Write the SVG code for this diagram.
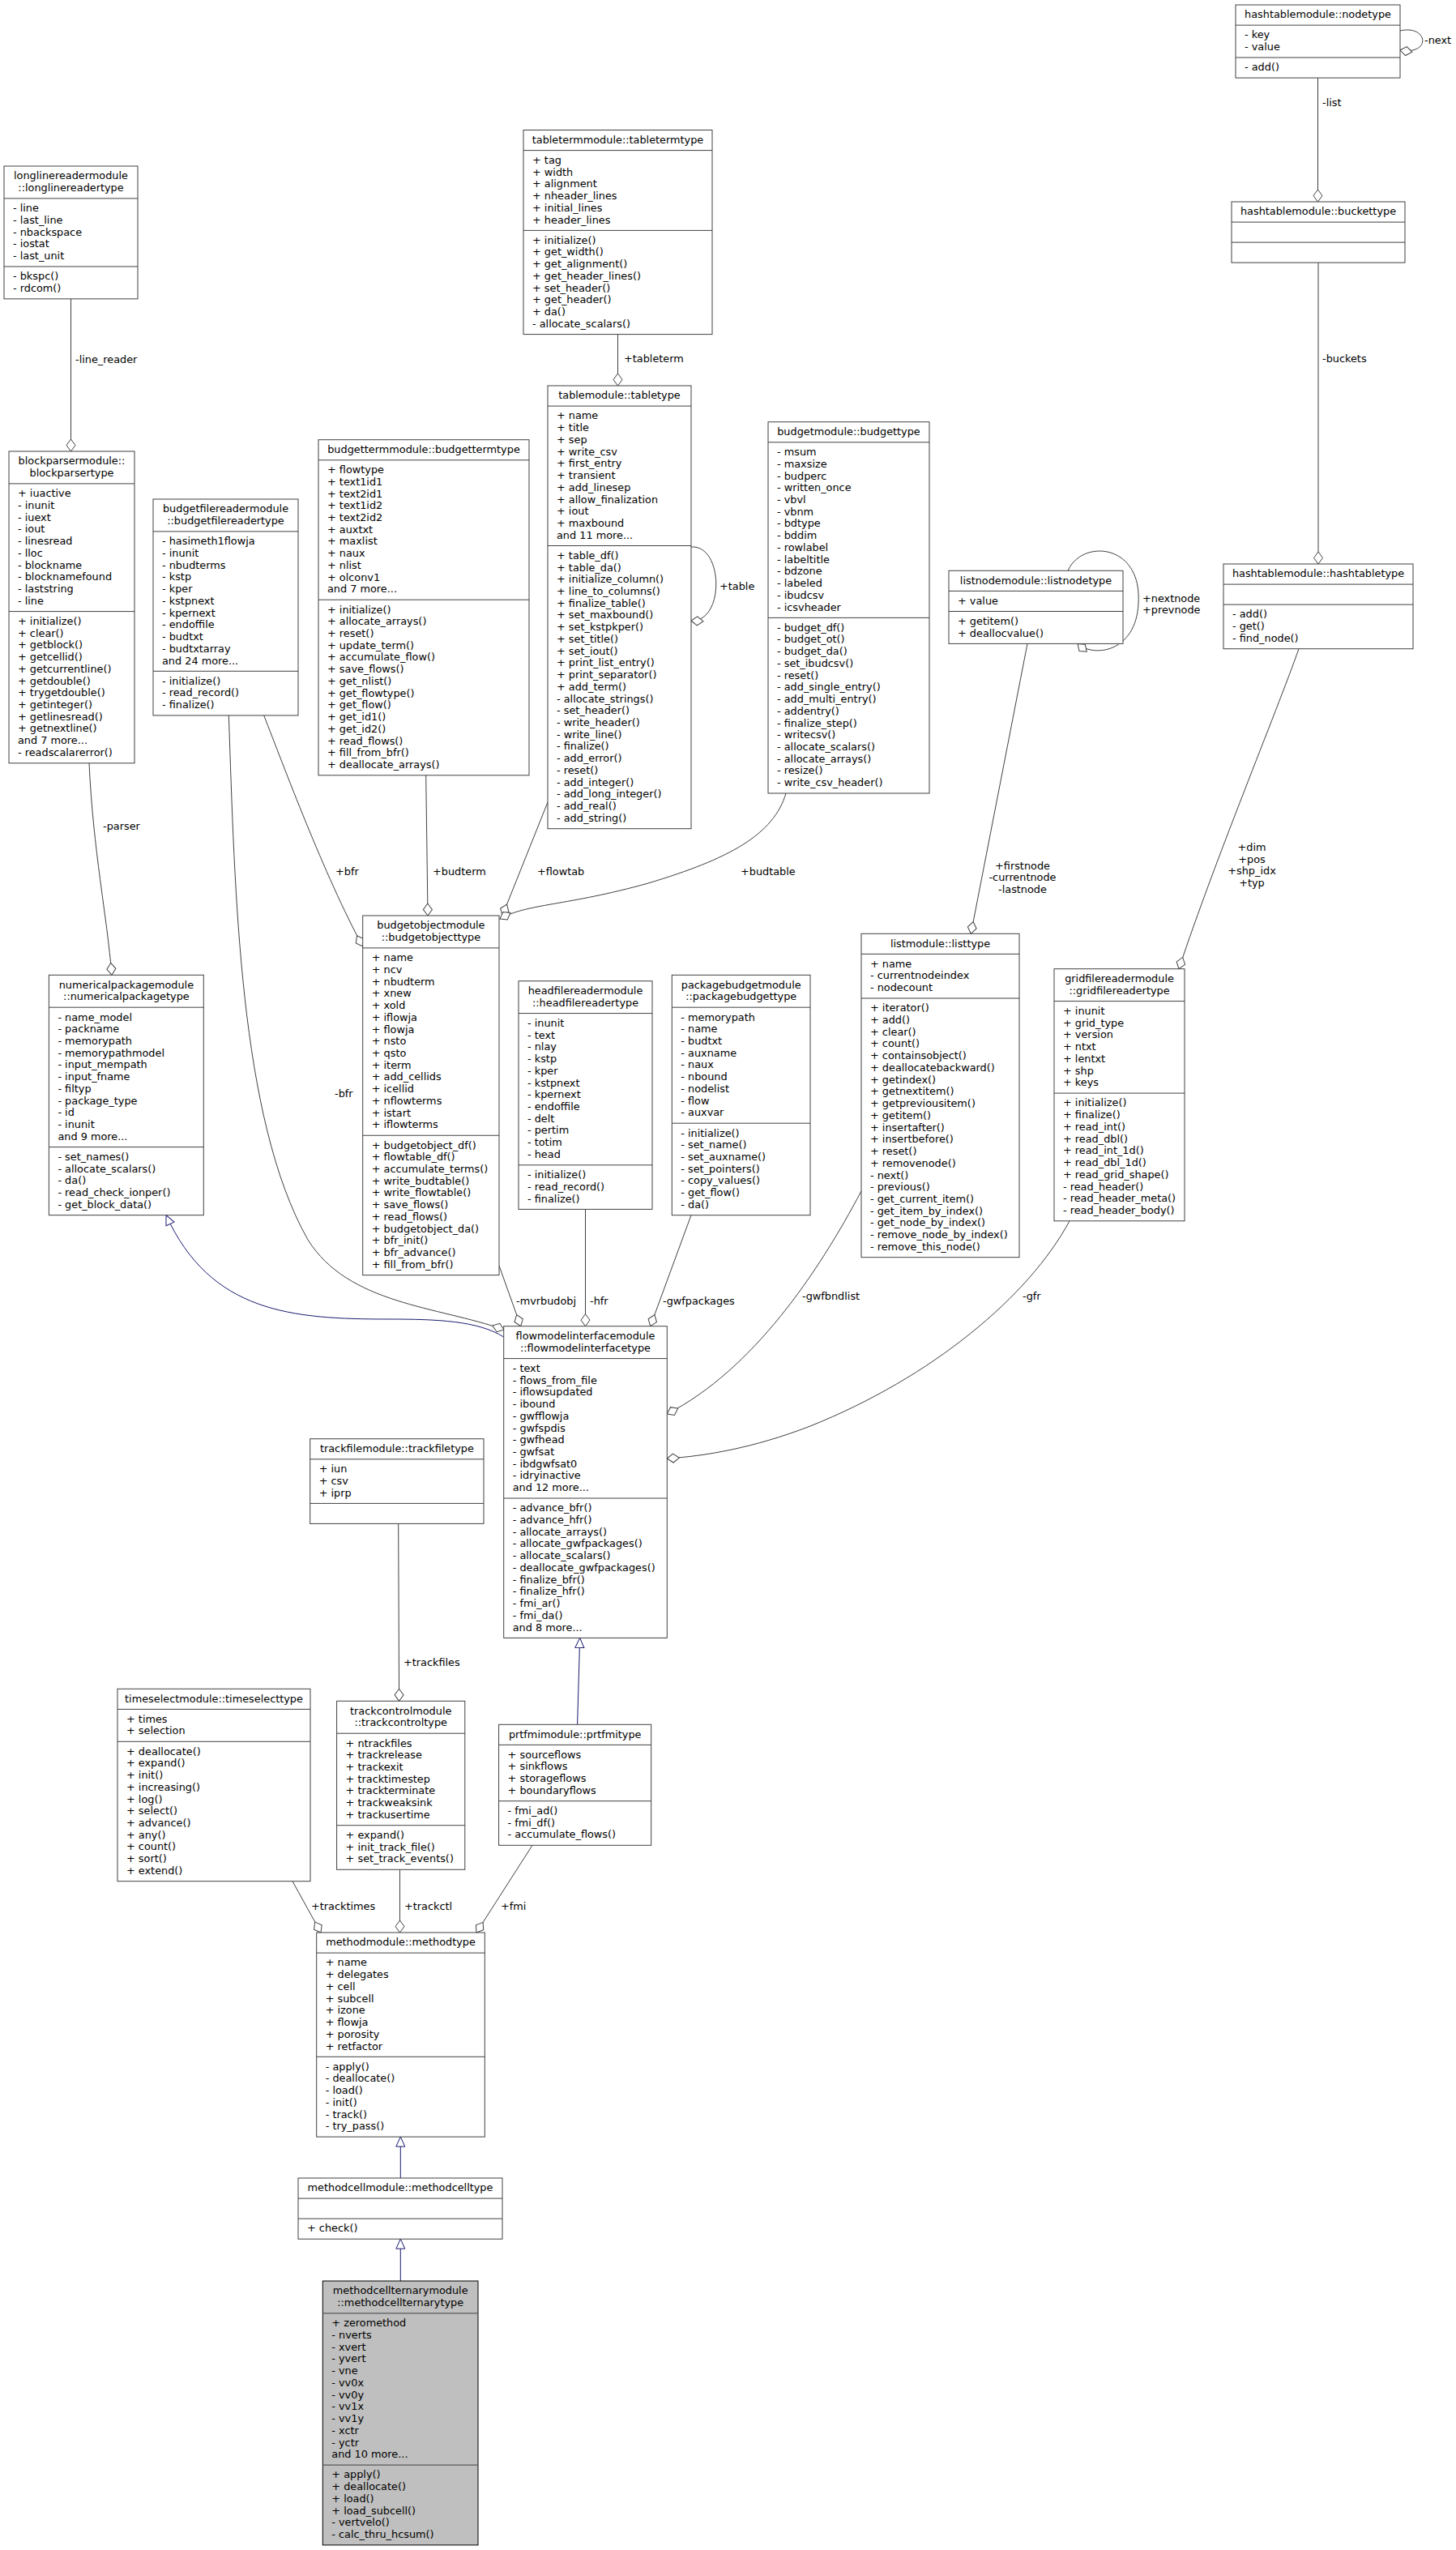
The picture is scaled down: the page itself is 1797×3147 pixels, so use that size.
<svg xmlns="http://www.w3.org/2000/svg" width="1797" height="3147" viewBox="0 0 1797 3147">
<style>
.n{fill:#fff;stroke:#404040;stroke-width:1}
.h{fill:#bfbfbf;stroke:#000;stroke-width:1}
.s{fill:none;stroke:#404040;stroke-width:1}
.e{fill:none;stroke:#404040;stroke-width:1}
.i{fill:none;stroke:#191970;stroke-width:1}
text{font-family:"DejaVu Sans",sans-serif;font-size:12.85px;fill:#000}
.c{text-anchor:middle}
</style>
<defs>
<marker id="dia" markerUnits="userSpaceOnUse" viewBox="-17 -7 19 14" refX="0" refY="0" markerWidth="19" markerHeight="14" orient="auto">
<path d="M0,0 L-7.5,-5.5 L-15,0 L-7.5,5.5 Z" fill="#fff" stroke="#404040" stroke-width="1"/>
</marker>
<marker id="tri" markerUnits="userSpaceOnUse" viewBox="-14 -7 16 14" refX="0" refY="0" markerWidth="16" markerHeight="14" orient="auto">
<path d="M0,0 L-12,-5.5 L-12,5.5 Z" fill="#fff" stroke="#191970" stroke-width="1"/>
</marker>
</defs>
<rect x="0" y="0" width="1797" height="3147" fill="#fff"/>

<g id="edges">
<path class="e" d="M87.5,368.9 V557" marker-end="url(#dia)"/>
<text x="93" y="448">-line_reader</text>
<path class="e" d="M110,941.8 C115,1050 132,1130 138,1203.3" marker-end="url(#dia)"/>
<text x="127" y="1024">-parser</text>
<path class="e" d="M325.7,882.9 C350,945 400,1080 447.7,1168" marker-end="url(#dia)"/>
<text x="414" y="1080">+bfr</text>
<path class="e" d="M282.3,882.9 C290,1100 295,1380 380,1530 C430,1610 540,1612 622,1641" marker-end="url(#dia)"/>
<text x="413" y="1354">-bfr</text>
<path class="e" d="M525.7,956.8 L528,1130" marker-end="url(#dia)"/>
<text x="534" y="1080">+budterm</text>
<path class="e" d="M676,990 L620,1130" marker-end="url(#dia)"/>
<text x="663" y="1080">+flowtab</text>
<path class="e" d="M970,979 C955,1030 900,1060 800,1090 C700,1118 650,1115 617,1134" marker-end="url(#dia)"/>
<text x="914" y="1080">+budtable</text>
<path class="e" d="M616,1562 L642.7,1636.7" marker-end="url(#dia)"/>
<text x="637" y="1610">-mvrbudobj</text>
<path class="e" d="M722.5,1492.4 L722.5,1636.7" marker-end="url(#dia)"/>
<text x="728" y="1610">-hfr</text>
<path class="e" d="M853,1499.7 L802.7,1636.7" marker-end="url(#dia)"/>
<text x="818" y="1610">-gwfpackages</text>
<path class="e" d="M1063,1470 C1010,1570 930,1690 823.3,1745" marker-end="url(#dia)"/>
<text x="990" y="1604">-gwfbndlist</text>
<path class="e" d="M1320,1506.8 C1270,1600 1150,1700 1000,1760 C930,1787 870,1797 823.3,1800" marker-end="url(#dia)"/>
<text x="1262" y="1604">-gfr</text>
<path class="e" d="M1268,794.4 L1198.3,1152.3" marker-end="url(#dia)"/>
<text class="c" x="1262" y="1072.5">+firstnode<tspan x="1262" dy="14.73">-currentnode</tspan><tspan x="1262" dy="14.73">-lastnode</tspan></text>
<path class="e" d="M1603,800.7 C1575,880 1500,1060 1455,1195.7" marker-end="url(#dia)"/>
<text class="c" x="1545" y="1050">+dim<tspan x="1545" dy="14.73">+pos</tspan><tspan x="1545" dy="14.73">+shp_idx</tspan><tspan x="1545" dy="14.73">+typ</tspan></text>
<path class="e" d="M762.5,412.6 V476" marker-end="url(#dia)"/>
<text x="770" y="447">+tableterm</text>
<path class="e" d="M853,675 C893,672 895,768 853,766" marker-end="url(#dia)"/>
<text x="888" y="728">+table</text>
<path class="e" d="M1626.5,96.1 V249" marker-end="url(#dia)"/>
<text x="1632" y="131">-list</text>
<path class="e" d="M1627,324.1 V696" marker-end="url(#dia)"/>
<text x="1632" y="447">-buckets</text>
<path class="e" d="M1728,38 C1762,30 1768,68 1728,62" marker-end="url(#dia)"/>
<text x="1758" y="54">-next</text>
<path class="e" d="M1318,704.3 C1335,665 1410,670 1405,745 C1402,805 1350,812 1330,794.4" marker-end="url(#dia)"/>
<text x="1410" y="742.5">+nextnode<tspan x="1410" dy="14.73">+prevnode</tspan></text>
<path class="e" d="M491.7,1880.4 L492.6,2099.3" marker-end="url(#dia)"/>
<text x="498" y="2056">+trackfiles</text>
<path class="e" d="M361,2321.7 L396,2385" marker-end="url(#dia)"/>
<text x="384" y="2357">+tracktimes</text>
<path class="e" d="M493.5,2307.3 V2385" marker-end="url(#dia)"/>
<text x="499" y="2357">+trackctl</text>
<path class="e" d="M657,2277.3 L588,2385" marker-end="url(#dia)"/>
<text x="618" y="2357">+fmi</text>
<path class="i" d="M712.6,2128.3 L715.7,2021.4" marker-end="url(#tri)"/>
<path class="i" d="M494.3,2688 V2637.1" marker-end="url(#tri)"/>
<path class="i" d="M494.3,2815 V2763.2" marker-end="url(#tri)"/>
<path class="i" d="M621.7,1650 C590,1630 540,1628 480,1628 C360,1628 260,1620 205,1499.6" marker-end="url(#tri)"/>
</g>

<g id="nodetype">
<rect class="n" x="1525" y="6" width="203" height="90.1"/>
<path class="s" d="M1525,31.1H1728M1525,71H1728"/>
<text class="c" x="1626.5" y="22.3">hashtablemodule::nodetype</text>
<text><tspan x="1536" y="47.4">- key</tspan><tspan x="1536" dy="14.73">- value</tspan></text>
<text x="1536" y="87.3">- add()</text>
</g>

<g id="buckettype">
<rect class="n" x="1520" y="249" width="214" height="75.1"/>
<path class="s" d="M1520,274.1H1734M1520,299.1H1734"/>
<text class="c" x="1627" y="265.3">hashtablemodule::buckettype</text>
</g>

<g id="hashtabletype">
<rect class="n" x="1510" y="696" width="234" height="104.7"/>
<path class="s" d="M1510,721.1H1744M1510,746.1H1744"/>
<text class="c" x="1627" y="712.3">hashtablemodule::hashtabletype</text>
<text><tspan x="1521" y="762.4">- add()</tspan><tspan x="1521" dy="14.73">- get()</tspan><tspan x="1521" dy="14.73">- find_node()</tspan></text>
</g>

<g id="tabletermtype">
<rect class="n" x="646" y="160.5" width="233" height="252.1"/>
<path class="s" d="M646,185.6H879M646,284.4H879"/>
<text class="c" x="762.5" y="176.8">tabletermmodule::tabletermtype</text>
<text><tspan x="657" y="201.9">+ tag</tspan><tspan x="657" dy="14.73">+ width</tspan><tspan x="657" dy="14.73">+ alignment</tspan><tspan x="657" dy="14.73">+ nheader_lines</tspan><tspan x="657" dy="14.73">+ initial_lines</tspan><tspan x="657" dy="14.73">+ header_lines</tspan></text>
<text><tspan x="657" y="300.7">+ initialize()</tspan><tspan x="657" dy="14.73">+ get_width()</tspan><tspan x="657" dy="14.73">+ get_alignment()</tspan><tspan x="657" dy="14.73">+ get_header_lines()</tspan><tspan x="657" dy="14.73">+ set_header()</tspan><tspan x="657" dy="14.73">+ get_header()</tspan><tspan x="657" dy="14.73">+ da()</tspan><tspan x="657" dy="14.73">- allocate_scalars()</tspan></text>
</g>

<g id="tabletype">
<rect class="n" x="676" y="476" width="177" height="546.7"/>
<path class="s" d="M676,501.1H853M676,673.5H853"/>
<text class="c" x="764.5" y="492.3">tablemodule::tabletype</text>
<text><tspan x="687" y="517.4">+ name</tspan><tspan x="687" dy="14.73">+ title</tspan><tspan x="687" dy="14.73">+ sep</tspan><tspan x="687" dy="14.73">+ write_csv</tspan><tspan x="687" dy="14.73">+ first_entry</tspan><tspan x="687" dy="14.73">+ transient</tspan><tspan x="687" dy="14.73">+ add_linesep</tspan><tspan x="687" dy="14.73">+ allow_finalization</tspan><tspan x="687" dy="14.73">+ iout</tspan><tspan x="687" dy="14.73">+ maxbound</tspan><tspan x="687" dy="14.73">and 11 more...</tspan></text>
<text><tspan x="687" y="689.8">+ table_df()</tspan><tspan x="687" dy="14.73">+ table_da()</tspan><tspan x="687" dy="14.73">+ initialize_column()</tspan><tspan x="687" dy="14.73">+ line_to_columns()</tspan><tspan x="687" dy="14.73">+ finalize_table()</tspan><tspan x="687" dy="14.73">+ set_maxbound()</tspan><tspan x="687" dy="14.73">+ set_kstpkper()</tspan><tspan x="687" dy="14.73">+ set_title()</tspan><tspan x="687" dy="14.73">+ set_iout()</tspan><tspan x="687" dy="14.73">+ print_list_entry()</tspan><tspan x="687" dy="14.73">+ print_separator()</tspan><tspan x="687" dy="14.73">+ add_term()</tspan><tspan x="687" dy="14.73">- allocate_strings()</tspan><tspan x="687" dy="14.73">- set_header()</tspan><tspan x="687" dy="14.73">- write_header()</tspan><tspan x="687" dy="14.73">- write_line()</tspan><tspan x="687" dy="14.73">- finalize()</tspan><tspan x="687" dy="14.73">- add_error()</tspan><tspan x="687" dy="14.73">- reset()</tspan><tspan x="687" dy="14.73">- add_integer()</tspan><tspan x="687" dy="14.73">- add_long_integer()</tspan><tspan x="687" dy="14.73">- add_real()</tspan><tspan x="687" dy="14.73">- add_string()</tspan></text>
</g>

<g id="longlinereadertype">
<rect class="n" x="5" y="205" width="165" height="163.85"/>
<path class="s" d="M5,244.9H170M5,328.95H170"/>
<text class="c" x="87.5" y="221.3">longlinereadermodule<tspan x="87.5" dy="14.73">::longlinereadertype</tspan></text>
<text><tspan x="16" y="261.2">- line</tspan><tspan x="16" dy="14.73">- last_line</tspan><tspan x="16" dy="14.73">- nbackspace</tspan><tspan x="16" dy="14.73">- iostat</tspan><tspan x="16" dy="14.73">- last_unit</tspan></text>
<text><tspan x="16" y="345.25">- bkspc()</tspan><tspan x="16" dy="14.73">- rdcom()</tspan></text>
</g>

<g id="blockparsertype">
<rect class="n" x="11" y="557" width="155" height="384.8"/>
<path class="s" d="M11,596.9H166M11,754.6H166"/>
<text class="c" x="88.5" y="573.3">blockparsermodule::<tspan x="88.5" dy="14.73">blockparsertype</tspan></text>
<text><tspan x="22" y="613.2">+ iuactive</tspan><tspan x="22" dy="14.73">- inunit</tspan><tspan x="22" dy="14.73">- iuext</tspan><tspan x="22" dy="14.73">- iout</tspan><tspan x="22" dy="14.73">- linesread</tspan><tspan x="22" dy="14.73">- lloc</tspan><tspan x="22" dy="14.73">- blockname</tspan><tspan x="22" dy="14.73">- blocknamefound</tspan><tspan x="22" dy="14.73">- laststring</tspan><tspan x="22" dy="14.73">- line</tspan></text>
<text><tspan x="22" y="770.9">+ initialize()</tspan><tspan x="22" dy="14.73">+ clear()</tspan><tspan x="22" dy="14.73">+ getblock()</tspan><tspan x="22" dy="14.73">+ getcellid()</tspan><tspan x="22" dy="14.73">+ getcurrentline()</tspan><tspan x="22" dy="14.73">+ getdouble()</tspan><tspan x="22" dy="14.73">+ trygetdouble()</tspan><tspan x="22" dy="14.73">+ getinteger()</tspan><tspan x="22" dy="14.73">+ getlinesread()</tspan><tspan x="22" dy="14.73">+ getnextline()</tspan><tspan x="22" dy="14.73">and 7 more...</tspan><tspan x="22" dy="14.73">- readscalarerror()</tspan></text>
</g>

<g id="budgetfilereadertype">
<rect class="n" x="189" y="616" width="179" height="266.9"/>
<path class="s" d="M189,655.9H368M189,828.3H368"/>
<text class="c" x="278.5" y="632.3">budgetfilereadermodule<tspan x="278.5" dy="14.73">::budgetfilereadertype</tspan></text>
<text><tspan x="200" y="672.2">- hasimeth1flowja</tspan><tspan x="200" dy="14.73">- inunit</tspan><tspan x="200" dy="14.73">- nbudterms</tspan><tspan x="200" dy="14.73">- kstp</tspan><tspan x="200" dy="14.73">- kper</tspan><tspan x="200" dy="14.73">- kstpnext</tspan><tspan x="200" dy="14.73">- kpernext</tspan><tspan x="200" dy="14.73">- endoffile</tspan><tspan x="200" dy="14.73">- budtxt</tspan><tspan x="200" dy="14.73">- budtxtarray</tspan><tspan x="200" dy="14.73">and 24 more...</tspan></text>
<text><tspan x="200" y="844.6">- initialize()</tspan><tspan x="200" dy="14.73">- read_record()</tspan><tspan x="200" dy="14.73">- finalize()</tspan></text>
</g>

<g id="budgettermtype">
<rect class="n" x="393" y="542.7" width="260" height="414.1"/>
<path class="s" d="M393,567.8H653M393,740.2H653"/>
<text class="c" x="523" y="559">budgettermmodule::budgettermtype</text>
<text><tspan x="404" y="584.1">+ flowtype</tspan><tspan x="404" dy="14.73">+ text1id1</tspan><tspan x="404" dy="14.73">+ text2id1</tspan><tspan x="404" dy="14.73">+ text1id2</tspan><tspan x="404" dy="14.73">+ text2id2</tspan><tspan x="404" dy="14.73">+ auxtxt</tspan><tspan x="404" dy="14.73">+ maxlist</tspan><tspan x="404" dy="14.73">+ naux</tspan><tspan x="404" dy="14.73">+ nlist</tspan><tspan x="404" dy="14.73">+ olconv1</tspan><tspan x="404" dy="14.73">and 7 more...</tspan></text>
<text><tspan x="404" y="756.5">+ initialize()</tspan><tspan x="404" dy="14.73">+ allocate_arrays()</tspan><tspan x="404" dy="14.73">+ reset()</tspan><tspan x="404" dy="14.73">+ update_term()</tspan><tspan x="404" dy="14.73">+ accumulate_flow()</tspan><tspan x="404" dy="14.73">+ save_flows()</tspan><tspan x="404" dy="14.73">+ get_nlist()</tspan><tspan x="404" dy="14.73">+ get_flowtype()</tspan><tspan x="404" dy="14.73">+ get_flow()</tspan><tspan x="404" dy="14.73">+ get_id1()</tspan><tspan x="404" dy="14.73">+ get_id2()</tspan><tspan x="404" dy="14.73">+ read_flows()</tspan><tspan x="404" dy="14.73">+ fill_from_bfr()</tspan><tspan x="404" dy="14.73">+ deallocate_arrays()</tspan></text>
</g>

<g id="budgettype">
<rect class="n" x="948" y="520.7" width="199" height="458.3"/>
<path class="s" d="M948,545.8H1147M948,762.4H1147"/>
<text class="c" x="1047.5" y="537">budgetmodule::budgettype</text>
<text><tspan x="959" y="562.1">- msum</tspan><tspan x="959" dy="14.73">- maxsize</tspan><tspan x="959" dy="14.73">- budperc</tspan><tspan x="959" dy="14.73">- written_once</tspan><tspan x="959" dy="14.73">- vbvl</tspan><tspan x="959" dy="14.73">- vbnm</tspan><tspan x="959" dy="14.73">- bdtype</tspan><tspan x="959" dy="14.73">- bddim</tspan><tspan x="959" dy="14.73">- rowlabel</tspan><tspan x="959" dy="14.73">- labeltitle</tspan><tspan x="959" dy="14.73">- bdzone</tspan><tspan x="959" dy="14.73">- labeled</tspan><tspan x="959" dy="14.73">- ibudcsv</tspan><tspan x="959" dy="14.73">- icsvheader</tspan></text>
<text><tspan x="959" y="778.7">- budget_df()</tspan><tspan x="959" dy="14.73">- budget_ot()</tspan><tspan x="959" dy="14.73">- budget_da()</tspan><tspan x="959" dy="14.73">- set_ibudcsv()</tspan><tspan x="959" dy="14.73">- reset()</tspan><tspan x="959" dy="14.73">- add_single_entry()</tspan><tspan x="959" dy="14.73">- add_multi_entry()</tspan><tspan x="959" dy="14.73">- addentry()</tspan><tspan x="959" dy="14.73">- finalize_step()</tspan><tspan x="959" dy="14.73">- writecsv()</tspan><tspan x="959" dy="14.73">- allocate_scalars()</tspan><tspan x="959" dy="14.73">- allocate_arrays()</tspan><tspan x="959" dy="14.73">- resize()</tspan><tspan x="959" dy="14.73">- write_csv_header()</tspan></text>
</g>

<g id="listnodetype">
<rect class="n" x="1171" y="704.3" width="215" height="90.1"/>
<path class="s" d="M1171,729.4H1386M1171,754.5H1386"/>
<text class="c" x="1278.5" y="720.6">listnodemodule::listnodetype</text>
<text x="1182" y="745.7">+ value</text>
<text><tspan x="1182" y="770.8">+ getitem()</tspan><tspan x="1182" dy="14.73">+ deallocvalue()</tspan></text>
</g>

<g id="numericalpackagetype">
<rect class="n" x="60.4" y="1203.3" width="190.9" height="296.35"/>
<path class="s" d="M60.4,1243.2H251.3M60.4,1415.6H251.3"/>
<text class="c" x="155.9" y="1219.6">numericalpackagemodule<tspan x="155.9" dy="14.73">::numericalpackagetype</tspan></text>
<text><tspan x="71.4" y="1259.5">- name_model</tspan><tspan x="71.4" dy="14.73">- packname</tspan><tspan x="71.4" dy="14.73">- memorypath</tspan><tspan x="71.4" dy="14.73">- memorypathmodel</tspan><tspan x="71.4" dy="14.73">- input_mempath</tspan><tspan x="71.4" dy="14.73">- input_fname</tspan><tspan x="71.4" dy="14.73">- filtyp</tspan><tspan x="71.4" dy="14.73">- package_type</tspan><tspan x="71.4" dy="14.73">- id</tspan><tspan x="71.4" dy="14.73">- inunit</tspan><tspan x="71.4" dy="14.73">and 9 more...</tspan></text>
<text><tspan x="71.4" y="1431.9">- set_names()</tspan><tspan x="71.4" dy="14.73">- allocate_scalars()</tspan><tspan x="71.4" dy="14.73">- da()</tspan><tspan x="71.4" dy="14.73">- read_check_ionper()</tspan><tspan x="71.4" dy="14.73">- get_block_data()</tspan></text>
</g>

<g id="budgetobjecttype">
<rect class="n" x="447.7" y="1130" width="168.3" height="443.65"/>
<path class="s" d="M447.7,1169.9H616M447.7,1401.25H616"/>
<text class="c" x="531.9" y="1146.3">budgetobjectmodule<tspan x="531.9" dy="14.73">::budgetobjecttype</tspan></text>
<text><tspan x="458.7" y="1186.2">+ name</tspan><tspan x="458.7" dy="14.73">+ ncv</tspan><tspan x="458.7" dy="14.73">+ nbudterm</tspan><tspan x="458.7" dy="14.73">+ xnew</tspan><tspan x="458.7" dy="14.73">+ xold</tspan><tspan x="458.7" dy="14.73">+ iflowja</tspan><tspan x="458.7" dy="14.73">+ flowja</tspan><tspan x="458.7" dy="14.73">+ nsto</tspan><tspan x="458.7" dy="14.73">+ qsto</tspan><tspan x="458.7" dy="14.73">+ iterm</tspan><tspan x="458.7" dy="14.73">+ add_cellids</tspan><tspan x="458.7" dy="14.73">+ icellid</tspan><tspan x="458.7" dy="14.73">+ nflowterms</tspan><tspan x="458.7" dy="14.73">+ istart</tspan><tspan x="458.7" dy="14.73">+ iflowterms</tspan></text>
<text><tspan x="458.7" y="1417.55">+ budgetobject_df()</tspan><tspan x="458.7" dy="14.73">+ flowtable_df()</tspan><tspan x="458.7" dy="14.73">+ accumulate_terms()</tspan><tspan x="458.7" dy="14.73">+ write_budtable()</tspan><tspan x="458.7" dy="14.73">+ write_flowtable()</tspan><tspan x="458.7" dy="14.73">+ save_flows()</tspan><tspan x="458.7" dy="14.73">+ read_flows()</tspan><tspan x="458.7" dy="14.73">+ budgetobject_da()</tspan><tspan x="458.7" dy="14.73">+ bfr_init()</tspan><tspan x="458.7" dy="14.73">+ bfr_advance()</tspan><tspan x="458.7" dy="14.73">+ fill_from_bfr()</tspan></text>
</g>

<g id="headfilereadertype">
<rect class="n" x="640" y="1210.7" width="165" height="281.7"/>
<path class="s" d="M640,1250.6H805M640,1437.8H805"/>
<text class="c" x="722.5" y="1227">headfilereadermodule<tspan x="722.5" dy="14.73">::headfilereadertype</tspan></text>
<text><tspan x="651" y="1266.9">- inunit</tspan><tspan x="651" dy="14.73">- text</tspan><tspan x="651" dy="14.73">- nlay</tspan><tspan x="651" dy="14.73">- kstp</tspan><tspan x="651" dy="14.73">- kper</tspan><tspan x="651" dy="14.73">- kstpnext</tspan><tspan x="651" dy="14.73">- kpernext</tspan><tspan x="651" dy="14.73">- endoffile</tspan><tspan x="651" dy="14.73">- delt</tspan><tspan x="651" dy="14.73">- pertim</tspan><tspan x="651" dy="14.73">- totim</tspan><tspan x="651" dy="14.73">- head</tspan></text>
<text><tspan x="651" y="1454.1">- initialize()</tspan><tspan x="651" dy="14.73">- read_record()</tspan><tspan x="651" dy="14.73">- finalize()</tspan></text>
</g>

<g id="packagebudgettype">
<rect class="n" x="829.3" y="1203.3" width="170.7" height="296.4"/>
<path class="s" d="M829.3,1243.2H1000M829.3,1386.2H1000"/>
<text class="c" x="914.7" y="1219.6">packagebudgetmodule<tspan x="914.7" dy="14.73">::packagebudgettype</tspan></text>
<text><tspan x="840.3" y="1259.5">- memorypath</tspan><tspan x="840.3" dy="14.73">- name</tspan><tspan x="840.3" dy="14.73">- budtxt</tspan><tspan x="840.3" dy="14.73">- auxname</tspan><tspan x="840.3" dy="14.73">- naux</tspan><tspan x="840.3" dy="14.73">- nbound</tspan><tspan x="840.3" dy="14.73">- nodelist</tspan><tspan x="840.3" dy="14.73">- flow</tspan><tspan x="840.3" dy="14.73">- auxvar</tspan></text>
<text><tspan x="840.3" y="1402.5">- initialize()</tspan><tspan x="840.3" dy="14.73">- set_name()</tspan><tspan x="840.3" dy="14.73">- set_auxname()</tspan><tspan x="840.3" dy="14.73">- set_pointers()</tspan><tspan x="840.3" dy="14.73">- copy_values()</tspan><tspan x="840.3" dy="14.73">- get_flow()</tspan><tspan x="840.3" dy="14.73">- da()</tspan></text>
</g>

<g id="listtype">
<rect class="n" x="1063" y="1152.3" width="195" height="399.4"/>
<path class="s" d="M1063,1177.4H1258M1063,1232H1258"/>
<text class="c" x="1160.5" y="1168.6">listmodule::listtype</text>
<text><tspan x="1074" y="1193.7">+ name</tspan><tspan x="1074" dy="14.73">- currentnodeindex</tspan><tspan x="1074" dy="14.73">- nodecount</tspan></text>
<text><tspan x="1074" y="1248.3">+ iterator()</tspan><tspan x="1074" dy="14.73">+ add()</tspan><tspan x="1074" dy="14.73">+ clear()</tspan><tspan x="1074" dy="14.73">+ count()</tspan><tspan x="1074" dy="14.73">+ containsobject()</tspan><tspan x="1074" dy="14.73">+ deallocatebackward()</tspan><tspan x="1074" dy="14.73">+ getindex()</tspan><tspan x="1074" dy="14.73">+ getnextitem()</tspan><tspan x="1074" dy="14.73">+ getpreviousitem()</tspan><tspan x="1074" dy="14.73">+ getitem()</tspan><tspan x="1074" dy="14.73">+ insertafter()</tspan><tspan x="1074" dy="14.73">+ insertbefore()</tspan><tspan x="1074" dy="14.73">+ reset()</tspan><tspan x="1074" dy="14.73">+ removenode()</tspan><tspan x="1074" dy="14.73">- next()</tspan><tspan x="1074" dy="14.73">- previous()</tspan><tspan x="1074" dy="14.73">- get_current_item()</tspan><tspan x="1074" dy="14.73">- get_item_by_index()</tspan><tspan x="1074" dy="14.73">- get_node_by_index()</tspan><tspan x="1074" dy="14.73">- remove_node_by_index()</tspan><tspan x="1074" dy="14.73">- remove_this_node()</tspan></text>
</g>

<g id="gridfilereadertype">
<rect class="n" x="1301" y="1195.7" width="161" height="311.1"/>
<path class="s" d="M1301,1235.6H1462M1301,1349.1H1462"/>
<text class="c" x="1381.5" y="1212">gridfilereadermodule<tspan x="1381.5" dy="14.73">::gridfilereadertype</tspan></text>
<text><tspan x="1312" y="1251.9">+ inunit</tspan><tspan x="1312" dy="14.73">+ grid_type</tspan><tspan x="1312" dy="14.73">+ version</tspan><tspan x="1312" dy="14.73">+ ntxt</tspan><tspan x="1312" dy="14.73">+ lentxt</tspan><tspan x="1312" dy="14.73">+ shp</tspan><tspan x="1312" dy="14.73">+ keys</tspan></text>
<text><tspan x="1312" y="1365.4">+ initialize()</tspan><tspan x="1312" dy="14.73">+ finalize()</tspan><tspan x="1312" dy="14.73">+ read_int()</tspan><tspan x="1312" dy="14.73">+ read_dbl()</tspan><tspan x="1312" dy="14.73">+ read_int_1d()</tspan><tspan x="1312" dy="14.73">+ read_dbl_1d()</tspan><tspan x="1312" dy="14.73">+ read_grid_shape()</tspan><tspan x="1312" dy="14.73">- read_header()</tspan><tspan x="1312" dy="14.73">- read_header_meta()</tspan><tspan x="1312" dy="14.73">- read_header_body()</tspan></text>
</g>

<g id="flowmodelinterfacetype">
<rect class="n" x="621.7" y="1636.7" width="201.6" height="384.7"/>
<path class="s" d="M621.7,1676.6H823.3M621.7,1849H823.3"/>
<text class="c" x="722.5" y="1653">flowmodelinterfacemodule<tspan x="722.5" dy="14.73">::flowmodelinterfacetype</tspan></text>
<text><tspan x="632.7" y="1692.9">- text</tspan><tspan x="632.7" dy="14.73">- flows_from_file</tspan><tspan x="632.7" dy="14.73">- iflowsupdated</tspan><tspan x="632.7" dy="14.73">- ibound</tspan><tspan x="632.7" dy="14.73">- gwfflowja</tspan><tspan x="632.7" dy="14.73">- gwfspdis</tspan><tspan x="632.7" dy="14.73">- gwfhead</tspan><tspan x="632.7" dy="14.73">- gwfsat</tspan><tspan x="632.7" dy="14.73">- ibdgwfsat0</tspan><tspan x="632.7" dy="14.73">- idryinactive</tspan><tspan x="632.7" dy="14.73">and 12 more...</tspan></text>
<text><tspan x="632.7" y="1865.3">- advance_bfr()</tspan><tspan x="632.7" dy="14.73">- advance_hfr()</tspan><tspan x="632.7" dy="14.73">- allocate_arrays()</tspan><tspan x="632.7" dy="14.73">- allocate_gwfpackages()</tspan><tspan x="632.7" dy="14.73">- allocate_scalars()</tspan><tspan x="632.7" dy="14.73">- deallocate_gwfpackages()</tspan><tspan x="632.7" dy="14.73">- finalize_bfr()</tspan><tspan x="632.7" dy="14.73">- finalize_hfr()</tspan><tspan x="632.7" dy="14.73">- fmi_ar()</tspan><tspan x="632.7" dy="14.73">- fmi_da()</tspan><tspan x="632.7" dy="14.73">and 8 more...</tspan></text>
</g>

<g id="trackfiletype">
<rect class="n" x="382.7" y="1775.7" width="214.3" height="104.7"/>
<path class="s" d="M382.7,1800.8H597M382.7,1855.4H597"/>
<text class="c" x="489.9" y="1792">trackfilemodule::trackfiletype</text>
<text><tspan x="393.7" y="1817.1">+ iun</tspan><tspan x="393.7" dy="14.73">+ csv</tspan><tspan x="393.7" dy="14.73">+ iprp</tspan></text>
</g>

<g id="timeselecttype">
<rect class="n" x="145" y="2084.3" width="238" height="237.4"/>
<path class="s" d="M145,2109.4H383M145,2149.3H383"/>
<text class="c" x="264" y="2100.6">timeselectmodule::timeselecttype</text>
<text><tspan x="156" y="2125.7">+ times</tspan><tspan x="156" dy="14.73">+ selection</tspan></text>
<text><tspan x="156" y="2165.6">+ deallocate()</tspan><tspan x="156" dy="14.73">+ expand()</tspan><tspan x="156" dy="14.73">+ init()</tspan><tspan x="156" dy="14.73">+ increasing()</tspan><tspan x="156" dy="14.73">+ log()</tspan><tspan x="156" dy="14.73">+ select()</tspan><tspan x="156" dy="14.73">+ advance()</tspan><tspan x="156" dy="14.73">+ any()</tspan><tspan x="156" dy="14.73">+ count()</tspan><tspan x="156" dy="14.73">+ sort()</tspan><tspan x="156" dy="14.73">+ extend()</tspan></text>
</g>

<g id="trackcontroltype">
<rect class="n" x="415.6" y="2099.3" width="158.2" height="208"/>
<path class="s" d="M415.6,2139.2H573.8M415.6,2252.7H573.8"/>
<text class="c" x="494.7" y="2115.6">trackcontrolmodule<tspan x="494.7" dy="14.73">::trackcontroltype</tspan></text>
<text><tspan x="426.6" y="2155.5">+ ntrackfiles</tspan><tspan x="426.6" dy="14.73">+ trackrelease</tspan><tspan x="426.6" dy="14.73">+ trackexit</tspan><tspan x="426.6" dy="14.73">+ tracktimestep</tspan><tspan x="426.6" dy="14.73">+ trackterminate</tspan><tspan x="426.6" dy="14.73">+ trackweaksink</tspan><tspan x="426.6" dy="14.73">+ trackusertime</tspan></text>
<text><tspan x="426.6" y="2269">+ expand()</tspan><tspan x="426.6" dy="14.73">+ init_track_file()</tspan><tspan x="426.6" dy="14.73">+ set_track_events()</tspan></text>
</g>

<g id="prtfmitype">
<rect class="n" x="615.6" y="2128.3" width="188.1" height="149"/>
<path class="s" d="M615.6,2153.4H803.7M615.6,2222.7H803.7"/>
<text class="c" x="709.7" y="2144.6">prtfmimodule::prtfmitype</text>
<text><tspan x="626.6" y="2169.7">+ sourceflows</tspan><tspan x="626.6" dy="14.73">+ sinkflows</tspan><tspan x="626.6" dy="14.73">+ storageflows</tspan><tspan x="626.6" dy="14.73">+ boundaryflows</tspan></text>
<text><tspan x="626.6" y="2239">- fmi_ad()</tspan><tspan x="626.6" dy="14.73">- fmi_df()</tspan><tspan x="626.6" dy="14.73">- accumulate_flows()</tspan></text>
</g>

<g id="methodtype">
<rect class="n" x="390.7" y="2385" width="207.6" height="252.1"/>
<path class="s" d="M390.7,2410.1H598.3M390.7,2538.3H598.3"/>
<text class="c" x="494.5" y="2401.3">methodmodule::methodtype</text>
<text><tspan x="401.7" y="2426.4">+ name</tspan><tspan x="401.7" dy="14.73">+ delegates</tspan><tspan x="401.7" dy="14.73">+ cell</tspan><tspan x="401.7" dy="14.73">+ subcell</tspan><tspan x="401.7" dy="14.73">+ izone</tspan><tspan x="401.7" dy="14.73">+ flowja</tspan><tspan x="401.7" dy="14.73">+ porosity</tspan><tspan x="401.7" dy="14.73">+ retfactor</tspan></text>
<text><tspan x="401.7" y="2554.6">- apply()</tspan><tspan x="401.7" dy="14.73">- deallocate()</tspan><tspan x="401.7" dy="14.73">- load()</tspan><tspan x="401.7" dy="14.73">- init()</tspan><tspan x="401.7" dy="14.73">- track()</tspan><tspan x="401.7" dy="14.73">- try_pass()</tspan></text>
</g>

<g id="methodcelltype">
<rect class="n" x="368" y="2688" width="252" height="75.2"/>
<path class="s" d="M368,2713.1H620M368,2738.1H620"/>
<text class="c" x="494" y="2704.3">methodcellmodule::methodcelltype</text>
<text x="379" y="2754.4">+ check()</text>
</g>

<g id="methodcellternarytype">
<rect class="h" x="398.3" y="2815" width="191.7" height="325.9"/>
<path class="s" d="M398.3,2854.9H590M398.3,3042.1H590"/>
<text class="c" x="494.2" y="2831.3">methodcellternarymodule<tspan x="494.2" dy="14.73">::methodcellternarytype</tspan></text>
<text><tspan x="409.3" y="2871.2">+ zeromethod</tspan><tspan x="409.3" dy="14.73">- nverts</tspan><tspan x="409.3" dy="14.73">- xvert</tspan><tspan x="409.3" dy="14.73">- yvert</tspan><tspan x="409.3" dy="14.73">- vne</tspan><tspan x="409.3" dy="14.73">- vv0x</tspan><tspan x="409.3" dy="14.73">- vv0y</tspan><tspan x="409.3" dy="14.73">- vv1x</tspan><tspan x="409.3" dy="14.73">- vv1y</tspan><tspan x="409.3" dy="14.73">- xctr</tspan><tspan x="409.3" dy="14.73">- yctr</tspan><tspan x="409.3" dy="14.73">and 10 more...</tspan></text>
<text><tspan x="409.3" y="3058.4">+ apply()</tspan><tspan x="409.3" dy="14.73">+ deallocate()</tspan><tspan x="409.3" dy="14.73">+ load()</tspan><tspan x="409.3" dy="14.73">+ load_subcell()</tspan><tspan x="409.3" dy="14.73">- vertvelo()</tspan><tspan x="409.3" dy="14.73">- calc_thru_hcsum()</tspan></text>
</g>
</svg>
